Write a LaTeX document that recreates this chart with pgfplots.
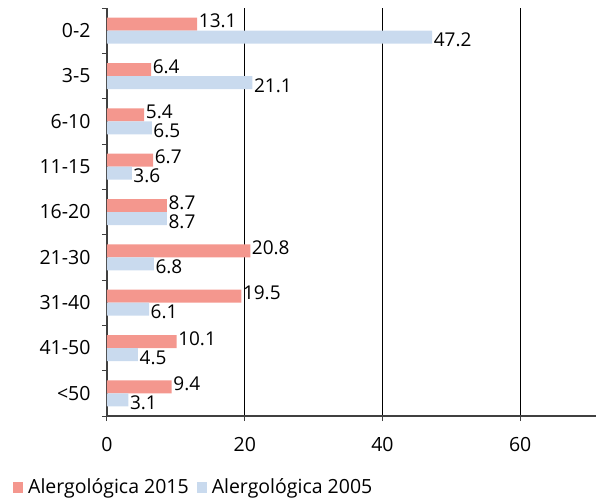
\documentclass[border=0pt]{standalone}
\usepackage{fontspec}
\setmainfont{Open Sans}
\usepackage{pgfplots}
\pgfplotsset{compat=1.18}

\definecolor{red15}{HTML}{F4978E}
\definecolor{blue05}{HTML}{C9DAEE}
\definecolor{axgray}{HTML}{404040}

\begin{document}
\begin{tikzpicture}
\begin{axis}[
  name=ax,
  scale only axis,
  width=489pt, height=408pt,
  xmin=0, xmax=71,
  ymin=-0.5, ymax=8.5,
  y dir=reverse,
  xbar, bar width=13pt,
  axis x line=bottom, axis y line=left,
  axis line style={-, axgray, line width=1.2pt},
  xtick={0,20,40,60},
  ytick={-0.5,0.5,...,8.5},
  yticklabels={},
  extra y ticks={0,...,8},
  extra y tick labels={0-2,3-5,6-10,11-15,16-20,21-30,31-40,41-50,<50},
  extra y tick style={major tick length=0pt, yticklabel style={xshift=-13pt}},
  major tick length=5pt,
  tick align=outside,
  tick style={axgray, line width=1pt},
  xmajorgrids,
  major grid style={black, line width=1.2pt},
  tick label style={font=\fontsize{19.5}{22}\selectfont},
  xticklabel style={yshift=-13pt},
  /pgf/number format/assume math mode=true,
  nodes near coords,
  nodes near coords style={font=\fontsize{19}{21}\selectfont, anchor=west, inner xsep=1.5pt, inner ysep=0pt, /pgf/number format/fixed, /pgf/number format/precision=1, /pgf/number format/fixed zerofill},
  point meta=explicit,
  legend columns=2,
  legend style={at={(rel axis cs:0,0)}, xshift=-94pt, yshift=-71pt, anchor=west,
    draw=none, fill=none, inner sep=0pt,
    font=\fontsize{19.5}{22}\selectfont,
    /tikz/every even column/.append style={column sep=6pt}},
  legend image code/.code={\fill[#1] (0pt,-5.5pt) rectangle (10pt,5.5pt);},
  legend style={/tikz/every odd column/.append style={column sep=3pt}},
]
\addplot[fill=red15, draw=none, bar shift=6.5pt, nodes near coords style={yshift=3pt}] coordinates {
  (13.1,0) [13.1] (6.4,1) [6.4] (5.4,2) [5.4] (6.7,3) [6.7] (8.7,4) [8.7]
  (20.8,5) [20.8] (19.5,6) [19.5] (10.1,7) [10.1] (9.4,8) [9.4]};
\addlegendentry{Alergológica 2015}
\addplot[fill=blue05, draw=none, bar shift=-6.5pt, nodes near coords style={yshift=-3pt}] coordinates {
  (47.2,0) [47.2] (21.1,1) [21.1] (6.5,2) [6.5] (3.6,3) [3.6] (8.7,4) [8.7]
  (6.8,5) [6.8] (6.1,6) [6.1] (4.5,7) [4.5] (3.1,8) [3.1]};
\addlegendentry{Alergológica 2005}
\end{axis}
\pgfresetboundingbox
\path ([xshift=-107pt,yshift=-83pt]ax.south west) rectangle ([yshift=8pt]ax.north east);
\end{tikzpicture}
\end{document}
